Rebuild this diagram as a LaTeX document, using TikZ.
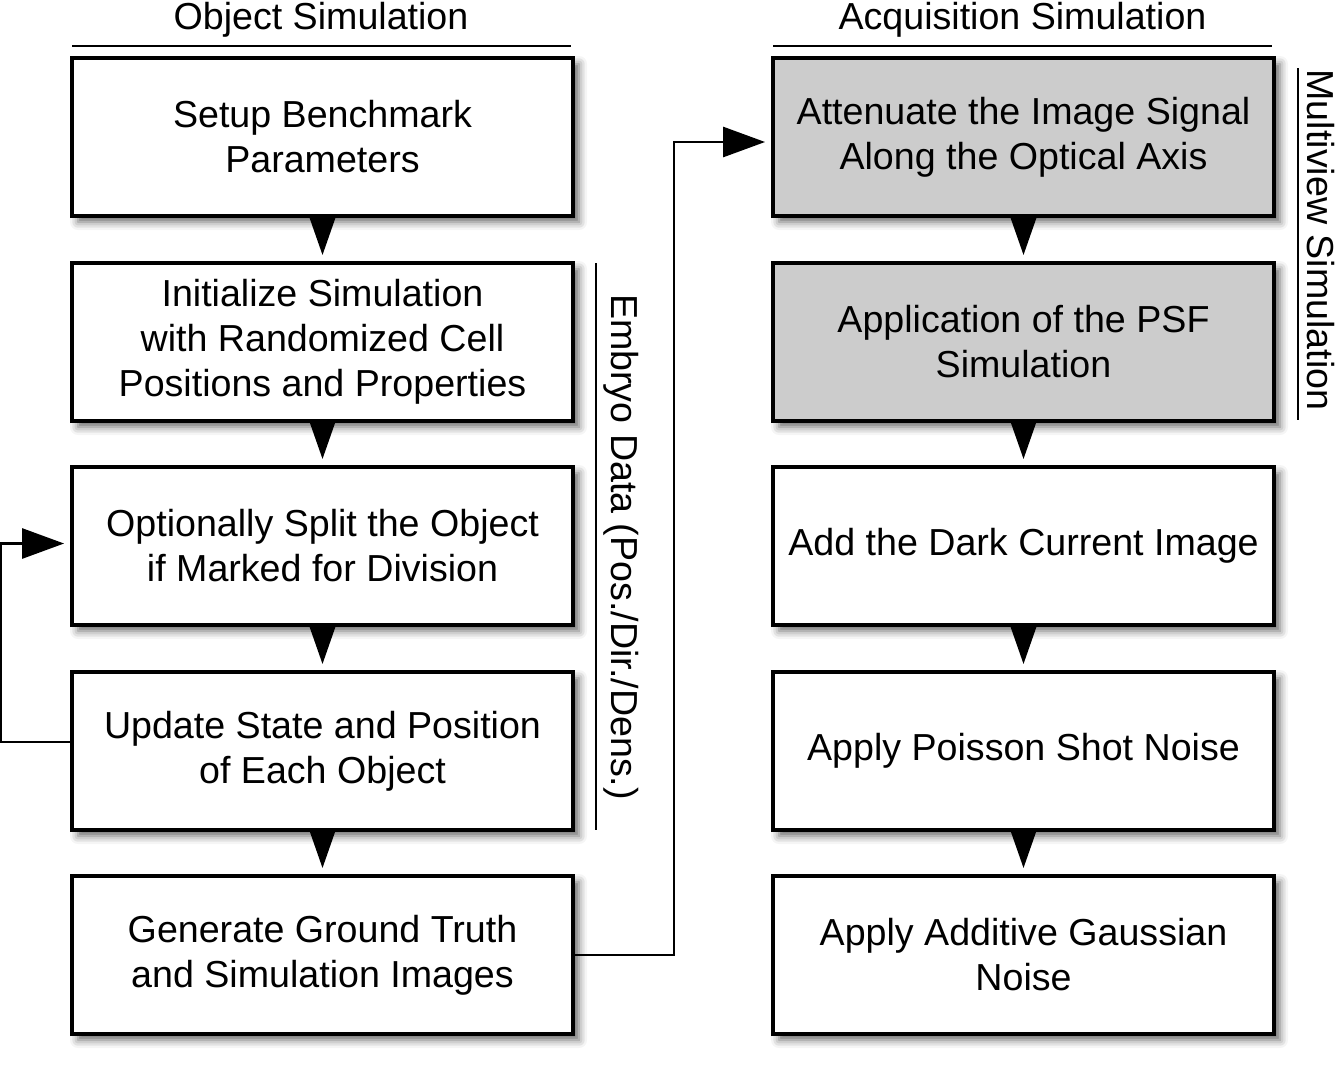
\documentclass[tikz,border=0pt]{standalone}
\usepackage{fontspec}
\setmainfont{Liberation Sans}
\usetikzlibrary{arrows.meta,shadows.blur}
\begin{document}
\begin{tikzpicture}[
  stepbox/.style={draw, line width=2.2pt, fill=white, minimum width=10.02cm,
    minimum height=3.16cm, align=center, font=\fontsize{21.4}{25.6}\selectfont,
    blur shadow={shadow xshift=0.12cm, shadow yshift=-0.12cm, shadow blur radius=0.16cm, shadow opacity=60}},
  greybox/.style={stepbox, fill=gray!40},
  flow/.style={line width=1.6pt, -{Triangle[length=0.74cm, width=0.5cm]}, shorten >=0.12cm},
  loopline/.style={line width=1.6pt, -{Triangle[length=0.84cm, width=0.6cm]}, shorten >=0.12cm},
  caption/.style={font=\fontsize{21.4}{25.6}\selectfont}
]
  \useasboundingbox (0,0) rectangle (26.82,-21.3);

  % headings
  \node[caption] (objhead) at (6.42,-0.4) {Object Simulation};
  \node[caption] (acqhead) at (20.45,-0.4) {Acquisition Simulation};
  \draw[line width=1.2pt] (1.44,-0.92) -- (11.42,-0.92);
  \draw[line width=1.2pt] (15.46,-0.92) -- (25.44,-0.92);

  % object simulation
  \node[stepbox] (setup) at (6.45,-2.74) {Setup Benchmark\\Parameters};
  \node[stepbox] (init) at (6.45,-6.84) {Initialize Simulation\\with Randomized Cell\\Positions and Properties};
  \node[stepbox] (split) at (6.45,-10.92) {Optionally Split the Object\\if Marked for Division};
  \node[stepbox] (update) at (6.45,-15.02) {Update State and Position\\of Each Object};
  \node[stepbox] (gen) at (6.45,-19.10) {Generate Ground Truth\\and Simulation Images};

  % acquisition simulation
  \node[greybox] (atten) at (20.47,-2.74) {Attenuate the Image Signal\\Along the Optical Axis};
  \node[greybox] (psf) at (20.47,-6.84) {Application of the PSF\\Simulation};
  \node[stepbox] (dark) at (20.47,-10.92) {Add the Dark Current Image};
  \node[stepbox] (poisson) at (20.47,-15.02) {Apply Poisson Shot Noise};
  \node[stepbox] (gauss) at (20.47,-19.10) {Apply Additive Gaussian\\Noise};

  \draw[flow] (setup) -- (init);
  \draw[flow] (init) -- (split);
  \draw[flow] (split) -- (update);
  \draw[flow] (update) -- (gen);
  \draw[flow] (atten) -- (psf);
  \draw[flow] (psf) -- (dark);
  \draw[flow] (dark) -- (poisson);
  \draw[flow] (poisson) -- (gauss);

  \draw[loopline] ([yshift=0.18cm]update.west) -- ++(-1.38,0) |- ([yshift=0.05cm]split.west);
  \draw[loopline] (gen.east) -- ++(1.98,0) |- ([yshift=-0.1cm]atten.west);

  % side labels
  \draw[line width=1.2pt] (11.92,-5.26) -- (11.92,-16.6);
  \node[caption, rotate=-90] (embryo) at (12.42,-10.94) {Embryo Data (Pos./Dir./Dens.)};
  \draw[line width=1.2pt] (25.96,-1.36) -- (25.96,-8.4);
  \node[caption, rotate=-90] (multi) at (26.42,-4.8) {Multiview Simulation};
\end{tikzpicture}
\end{document}
